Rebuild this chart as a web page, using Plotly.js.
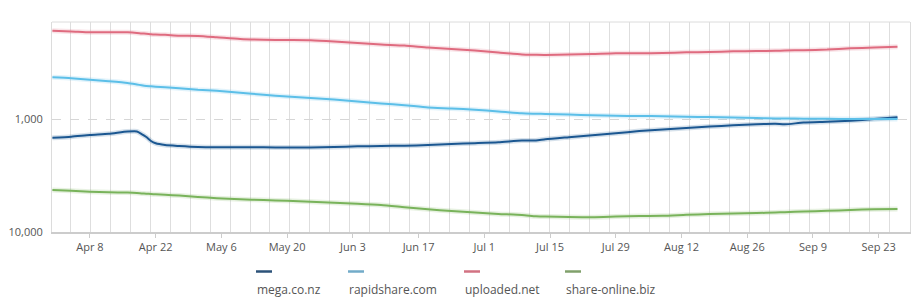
<!DOCTYPE html>
<html>
<head>
<meta charset="utf-8">
<script src="https://cdn.plot.ly/plotly-3.0.1.min.js"></script>
<style>
  html, body { margin: 0; padding: 0; background: #ffffff; }
  #chart { width: 919px; height: 303px; }
</style>
</head>
<body>
<div id="chart"></div>
<script>
// ---- data (Alexa traffic rank, 2013) ----
const dates = [
  '2013-03-31','2013-04-04','2013-04-08','2013-04-12','2013-04-16','2013-04-18','2013-04-19',
  '2013-04-20','2013-04-21','2013-04-22','2013-04-24','2013-04-27','2013-05-01','2013-05-05',
  '2013-05-10','2013-05-15','2013-05-20','2013-05-25','2013-05-30','2013-06-04','2013-06-09',
  '2013-06-14','2013-06-19','2013-06-24','2013-06-29','2013-07-04','2013-07-09','2013-07-12',
  '2013-07-14','2013-07-19','2013-07-24','2013-07-29','2013-08-03','2013-08-08','2013-08-13',
  '2013-08-18','2013-08-23','2013-08-28','2013-09-01','2013-09-03','2013-09-07','2013-09-12',
  '2013-09-17','2013-09-22','2013-09-27'
];
const megaRank = [
  1464,1434,1385,1352,1293,1290,1358,1443,1565,1641,1699,1734,1769,1780,
  1780,1780,1787,1787,1769,1745,1734,1723,1699,1664,1637,1607,1553,1550,
  1512,1449,1391,1338,1280,1239,1201,1165,1137,1112,1103,1114,1076,1057,
  1035,1002,966
];
const rapidshareRank = [
  428,436,449,463,480,495,503,510,514,518,524,535,552,563,
  585,610,632,652,672,700,728,755,790,807,829,858,890,898,
  903,914,927,937,941,945,956,962,972,982,988,990,994,996,
  1000,1000,1000
];
const uploadedRank = [
  166,168,171,171,171,173,175,176,178,179,180,183,184,189,
  196,199,200,201,206,213,219,224,233,240,248,258,268,270,
  271,269,266,262,262,261,257,255,252,250,249,248,246,243,
  237,233,229
];
const shareOnlineRank = [
  4249,4319,4399,4444,4480,4517,4554,4582,4610,4638,4676,4763,4900,5021,
  5135,5220,5295,5404,5504,5618,5768,6032,6296,6519,6734,6915,7072,7247,
  7306,7367,7396,7306,7218,7188,7043,6929,6873,6803,6720,6680,6585,6492,
  6386,6296,6258
];
const seriesNames = ['mega.co.nz', 'rapidshare.com', 'uploaded.net', 'share-online.biz'];
const yTickVals = [1000, 10000];
const yTickText = ['1,000', '10,000'];

// ---- styling ----
const lineColors = ['#1b5791', '#5cbfe8', '#df6b7f', '#79b35b'];
const swatchColors = ['#2c5279', '#72abc9', '#d27282', '#80a06b'];
const seriesValues = [megaRank, rapidshareRank, uploadedRank, shareOnlineRank];

const W = 919, H = 303;
const M = { l: 52, r: 9, t: 22, b: 71 };
const plotW = W - M.l - M.r, plotH = H - M.t - M.b;
const pxToPaperX = px => (px - M.l) / plotW;
const pxToPaperY = py => (H - M.b - py) / plotH;

const legendLeftPx = [256, 348, 464, 565];
const swatchLen = 16;
const swatchY = 271.5;
const legendTextY = 289;

const traces = [];
seriesValues.forEach((vals, i) => {
  traces.push({
    x: dates, y: vals, type: 'scatter', mode: 'lines',
    line: { color: lineColors[i], width: 5, shape: 'spline', smoothing: 0.6 },
    opacity: 0.18, hoverinfo: 'skip', showlegend: false
  });
});
seriesValues.forEach((vals, i) => {
  traces.push({
    x: dates, y: vals, type: 'scatter', mode: 'lines', name: seriesNames[i],
    line: { color: lineColors[i], width: 2, shape: 'spline', smoothing: 0.6 },
    showlegend: false
  });
});

const shapes = [];
const annotations = [];
seriesNames.forEach((nm, i) => {
  shapes.push({
    type: 'line', xref: 'paper', yref: 'paper',
    x0: pxToPaperX(legendLeftPx[i]), x1: pxToPaperX(legendLeftPx[i] + swatchLen),
    y0: pxToPaperY(swatchY), y1: pxToPaperY(swatchY),
    line: { color: swatchColors[i], width: 2.5 }
  });
  annotations.push({
    xref: 'paper', yref: 'paper',
    x: pxToPaperX(legendLeftPx[i] - 1), y: pxToPaperY(legendTextY),
    xanchor: 'left', yanchor: 'middle', showarrow: false,
    text: nm, font: { family: 'Open Sans, sans-serif', size: 12, color: '#555555' }
  });
});

const DAY = 86400000;
const layout = {
  width: W, height: H,
  margin: M,
  paper_bgcolor: '#ffffff', plot_bgcolor: '#ffffff',
  showlegend: false,
  font: { family: 'Open Sans, sans-serif', size: 11, color: '#555555' },
  xaxis: {
    type: 'date',
    range: ['2013-03-30 22:00', '2013-09-29 16:00'],
    tick0: '2013-04-08', dtick: 14 * DAY,
    tickformat: '%b %-d',
    ticks: 'outside', ticklen: 4, tickcolor: '#cccccc', tickwidth: 1,
    showgrid: false,
    showline: true, linecolor: '#cccccc', linewidth: 1.5, mirror: false,
    tickfont: { size: 11, color: '#555555' },
    minor: { tick0: '2013-04-08 00:30', dtick: 4.2586 * DAY, showgrid: true,
             gridcolor: '#dedede', gridwidth: 1, ticks: '' },
    zeroline: false, fixedrange: true
  },
  yaxis: {
    type: 'log', autorange: false, range: [4, 2.1416],
    tickmode: 'array', tickvals: yTickVals, ticktext: yTickText,
    ticks: '', showgrid: true, gridcolor: '#d6d6d6', griddash: 'dash', gridwidth: 1,
    showline: true, linecolor: '#dcdcdc', linewidth: 1, mirror: true,
    tickfont: { size: 11, color: '#555555' },
    ticklabelstandoff: 6,
    zeroline: false, fixedrange: true
  },
  shapes: shapes.concat([{
    type: 'line', xref: 'paper', yref: 'paper', x0: 0, x1: 1, y0: 1, y1: 1,
    line: { color: '#dcdcdc', width: 1 }
  }]),
  annotations: annotations
};

Plotly.newPlot('chart', traces, layout, { displayModeBar: false, staticPlot: true });
</script>
</body>
</html>
